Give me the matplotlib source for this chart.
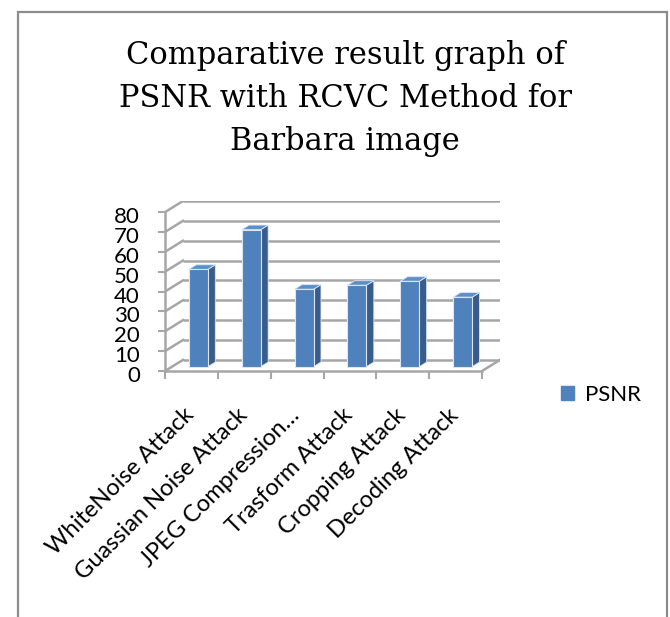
"""
Comparative PSNR bar chart (fake 3D, Excel style) for the Barbara image.
"""

import matplotlib
matplotlib.use("Agg")
import matplotlib.pyplot as plt
import matplotlib.transforms as mtransforms
from matplotlib.patches import Rectangle

categories = ["WhiteNoise Attack", "Guassian Noise Attack", "JPEG Compression…",
              "Trasform Attack", "Cropping Attack", "Decoding Attack"]
psnr = [49, 69, 39, 41, 43, 35]
y_ticks = [0, 10, 20, 30, 40, 50, 60, 70, 80]
series_name = "PSNR"
title = "Comparative result graph of\nPSNR with RCVC Method for\nBarbara image"

FRONT = "#4F81BD"
SIDE = "#385D8A"
TOP = "#5B8FCC"
GRID = "#A6A6A6"

# depth of the fake 3D box, in data units
DX, DY = 0.34, 5.6
F0, F1 = 0.39, 0.80
BAR_W = 0.36

W, H = 670, 617
fig = plt.figure(figsize=(W / 100, H / 100), dpi=100)

# outer chart border
fig.patches.append(Rectangle((18 / W, -0.05), (667 - 18) / W, (H - 12) / H + 0.05,
                             transform=fig.transFigure, fill=False,
                             edgecolor="#8C8C8C", linewidth=1.6))

fig.text(345 / W, 1 - 40 / H, title, ha="center", va="top", family="DejaVu Serif",
         fontsize=22, linespacing=1.5)

ax = fig.add_axes([165 / W, (H - 371) / H, 335 / W, 170 / H])
n = len(categories)
ax.set_xlim(-0.5, n - 0.5 + DX)
ax.set_ylim(0, y_ticks[-1] + DY)
ax.patch.set_visible(False)
for side in ["top", "right"]:
    ax.spines[side].set_visible(False)
ax.spines["left"].set_bounds(0, y_ticks[-1])
ax.spines["bottom"].set_bounds(-0.5, n - 0.5)
for side in ["left", "bottom"]:
    ax.spines[side].set_color(GRID)
    ax.spines[side].set_linewidth(1.8)

# back wall and side wall gridlines
for t in y_ticks:
    ax.plot([-0.5 + DX, n - 0.5 + DX], [t + DY, t + DY], color=GRID, lw=1.8, zorder=1,
            solid_capstyle="butt")
    ax.plot([-0.5, -0.5 + DX], [t, t + DY], color=GRID, lw=1.8, zorder=1)
ax.plot([n - 0.5, n - 0.5 + DX], [0, DY], color=GRID, lw=1.8, zorder=1)

# bars: front face plus side and top faces
xs = [i + F0 * DX for i in range(n)]
ax.bar(xs, psnr, bottom=F0 * DY, width=BAR_W, color=FRONT, edgecolor="#DCE6F2",
       linewidth=0.8, zorder=3)
ddx, ddy = (F1 - F0) * DX, (F1 - F0) * DY
for x, v in zip(xs, psnr):
    xl, xr = x - BAR_W / 2, x + BAR_W / 2
    y0, y1 = F0 * DY, F0 * DY + v
    ax.fill([xr, xr + ddx, xr + ddx, xr], [y0, y0 + ddy, y1 + ddy, y1],
            color=SIDE, ec="#DCE6F2", lw=0.6, zorder=2.9)
    ax.fill([xl, xr, xr + ddx, xl + ddx], [y1, y1, y1 + ddy, y1 + ddy],
            color=TOP, ec="#DCE6F2", lw=0.6, zorder=2.9)

ax.set_yticks(y_ticks)
ax.set_yticklabels([str(t) for t in y_ticks], family="Lato", fontsize=16)
ax.tick_params(axis="y", length=5, width=1.5, color=GRID, pad=13)
shift_y = mtransforms.ScaledTranslation(0, -3 / 100, fig.dpi_scale_trans)
for lbl in ax.get_yticklabels():
    lbl.set_transform(lbl.get_transform() + shift_y)

ax.set_xticks(range(n))
ax.set_xticklabels(categories, rotation=45, ha="right", rotation_mode="anchor",
                   family="Lato", fontsize=17)
ax.tick_params(axis="x", which="major", length=0, pad=24)
ax.set_xticks([i - 0.5 for i in range(n + 1)], minor=True)
ax.tick_params(axis="x", which="minor", length=6, width=1.5, color=GRID)
shift_x = mtransforms.ScaledTranslation(-8 / 100, 0, fig.dpi_scale_trans)
for lbl in ax.get_xticklabels():
    lbl.set_transform(lbl.get_transform() + shift_x)

leg = ax.legend([Rectangle((0, 0), 1, 1, color=FRONT)], [series_name],
                loc="center left", bbox_to_anchor=(541 / W, 1 - 395 / H),
                bbox_transform=fig.transFigure, frameon=False,
                prop={"family": "Lato", "size": 16}, handlelength=0.6, handleheight=0.6,
                handletextpad=0.5)

fig.savefig("out.png", dpi=100)
